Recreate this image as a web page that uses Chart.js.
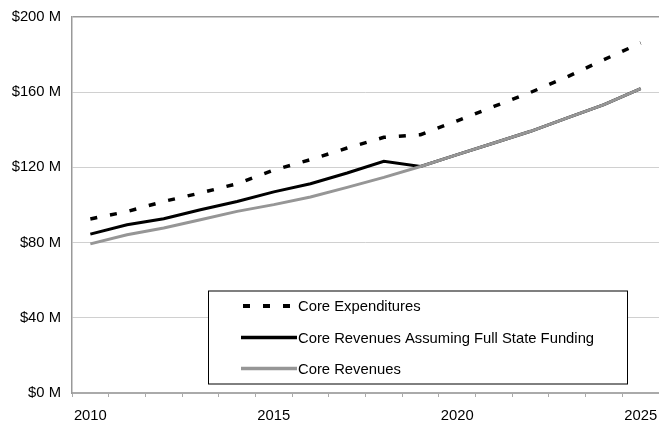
<!DOCTYPE html>
<html>
<head>
<meta charset="utf-8">
<script src="https://cdn.jsdelivr.net/npm/chart.js@4/dist/chart.umd.min.js"></script>
<style>
  body { margin: 0; background: #fff; }
  #chart { display: block; }
</style>
</head>
<body>
<canvas id="chart" width="659" height="426"></canvas>
<script>
// data, $ millions
var years = ['2010', '2011', '2012', '2013', '2014', '2015', '2016', '2017',
             '2018', '2019', '2020', '2021', '2022', '2023', '2024', '2025'];
var coreExpenditures = [92.6, 96.5, 101.9, 106.4, 111.3, 118.6, 124.1, 130.3,
                        136.0, 137.4, 144.8, 152.4, 159.9, 168.2, 177.3, 186.2];
var fullStateFunding = [84.5, 89.5, 92.7, 97.5, 101.9, 107.0, 111.3, 117.0,
                        123.2, 120.5, 126.8, 133.0, 139.2, 146.3, 153.4, 161.9];
var coreRevenues = [79.3, 84.2, 87.8, 92.2, 96.6, 100.2, 104.3, 109.4,
                    114.7, 120.5, 126.8, 133.0, 139.2, 146.3, 153.4, 161.9];
var yTicks = [0, 40, 80, 120, 160, 200];

var fontFamily = '"Liberation Sans", Arial, sans-serif';
var fontSize = 14.8;

// legend drawn as a boxed panel inside the plot, like the original
var boxLegend = {
    id: 'boxLegend',
    afterDraw: function (chart) {
        var ctx = chart.ctx;
        var x0 = 208, y0 = 290.5, w = 419, h = 93;
        ctx.save();
        ctx.fillStyle = '#fff';
        ctx.fillRect(x0, y0, w, h);
        ctx.strokeStyle = '#000';
        ctx.lineWidth = 1;
        ctx.strokeRect(x0 + 0.5, y0 + 0.5, w, h);

        var rows = [306, 337.5, 368.5];
        ctx.font = fontSize + 'px ' + fontFamily;
        ctx.textBaseline = 'middle';
        ctx.textAlign = 'left';
        chart.data.datasets.forEach(function (ds, i) {
            var y = rows[i];
            ctx.beginPath();
            ctx.strokeStyle = ds.borderColor;
            ctx.lineWidth = ds.borderWidth + 0.5;
            ctx.lineCap = 'butt';
            ctx.setLineDash(ds.borderDash || []);
            ctx.moveTo(ds.borderDash ? 243 : 241, y);
            ctx.lineTo(297, y);
            ctx.stroke();
            ctx.setLineDash([]);
            ctx.fillStyle = '#000';
            ctx.fillText(ds.label, 298, y + 1);
        });
        ctx.restore();
    }
};

var ctx = document.getElementById('chart').getContext('2d');
var chart = new Chart(ctx, {
    type: 'line',
    data: {
        labels: years,
        datasets: [{
            label: 'Core Expenditures',
            data: coreExpenditures,
            borderColor: '#000',
            borderWidth: 3.5,
            borderDash: [7, 13],
            borderCapStyle: 'butt',
            pointRadius: 0,
            tension: 0,
            order: 2
        }, {
            label: 'Core Revenues Assuming Full State Funding',
            data: fullStateFunding,
            borderColor: '#000',
            borderWidth: 3,
            pointRadius: 0,
            tension: 0,
            order: 1
        }, {
            label: 'Core Revenues',
            data: coreRevenues,
            borderColor: '#969696',
            borderWidth: 3,
            pointRadius: 0,
            tension: 0,
            order: 0
        }]
    },
    options: {
        responsive: false,
        animation: false,
        layout: {
            padding: { left: 10, top: 17, right: 0, bottom: 0 }
        },
        plugins: {
            legend: { display: false },
            tooltip: { enabled: false }
        },
        scales: {
            x: {
                type: 'category',
                offset: true,
                afterFit: function (axis) {
                    axis.height = 33;
                    axis.paddingRight = 0;
                    axis.paddingLeft = 0;
                },
                grid: {
                    offset: true,
                    drawOnChartArea: false,
                    drawTicks: true,
                    tickLength: 4,
                    tickColor: '#aaa',
                    lineWidth: 1
                },
                border: { color: '#aaa', width: 2 },
                ticks: {
                    autoSkip: false,
                    maxRotation: 0,
                    padding: 10,
                    color: '#000',
                    font: { family: fontFamily, size: fontSize },
                    callback: function (v) {
                        var lab = this.getLabelForValue(v);
                        return Number(lab) % 5 === 0 ? lab : '';
                    }
                }
            },
            y: {
                min: 0,
                max: 200,
                afterBuildTicks: function (axis) {
                    axis.ticks = yTicks.map(function (v) { return { value: v }; });
                },
                afterFit: function (axis) {
                    axis.width = 62;
                    axis.paddingTop = 0;
                    axis.paddingBottom = 0;
                },
                grid: {
                    drawTicks: false,
                    color: function (c) { return c.tick && c.tick.value === 200 ? '#999' : '#d0d0d0'; },
                    lineWidth: function (c) { return c.tick && c.tick.value === 200 ? 1.5 : 1; }
                },
                border: { color: '#999', width: 1.5 },
                ticks: {
                    padding: 11,
                    color: '#000',
                    font: { family: fontFamily, size: fontSize },
                    callback: function (v) { return '$' + v + ' M'; }
                }
            }
        }
    },
    plugins: [boxLegend]
});
</script>
</body>
</html>
